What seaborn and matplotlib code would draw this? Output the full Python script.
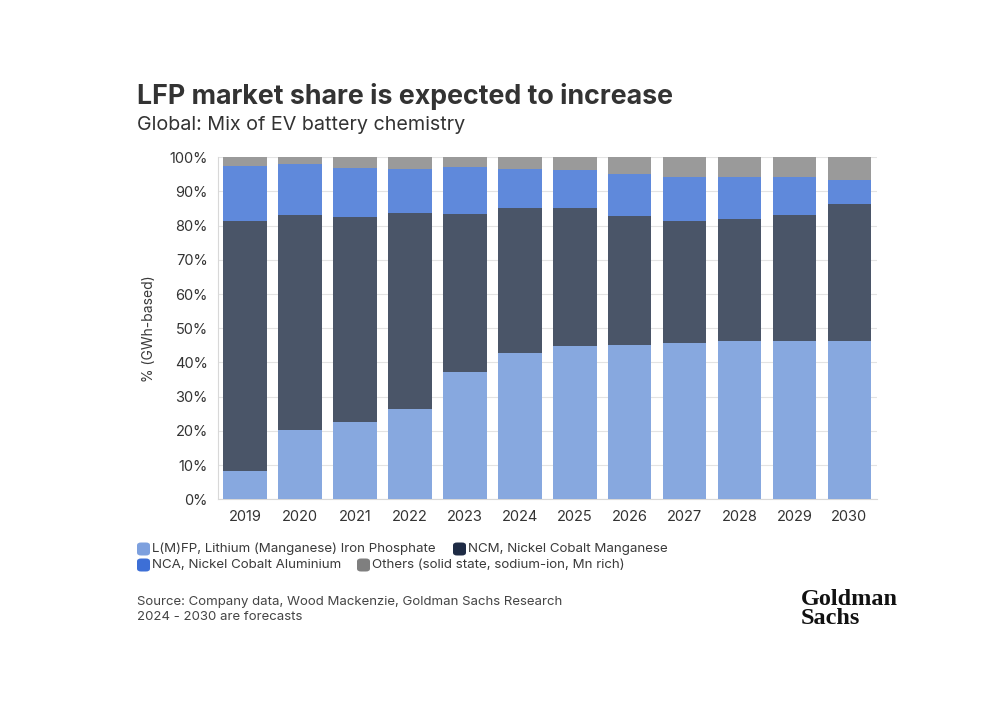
import numpy as np
import pandas as pd
import matplotlib
matplotlib.use("Agg")
import matplotlib.pyplot as plt
from matplotlib.patches import FancyBboxPatch
import seaborn as sns

years = ["2019", "2020", "2021", "2022", "2023", "2024", "2025", "2026", "2027", "2028", "2029", "2030"]
lfp = [8.3, 20.2, 22.7, 26.5, 37.1, 42.8, 44.8, 45.2, 45.8, 46.3, 46.3, 46.2]
ncm = [73.1, 62.9, 59.7, 57.3, 46.3, 42.4, 40.5, 37.5, 35.7, 35.7, 36.9, 40.0]
nca = [16.0, 14.9, 14.5, 12.9, 13.7, 11.3, 11.1, 12.3, 12.8, 12.2, 10.9, 7.2]
others = [2.6, 2.0, 3.1, 3.3, 2.9, 3.5, 3.6, 5.0, 5.7, 5.8, 5.9, 6.6]
series_names = ["L(M)FP, Lithium (Manganese) Iron Phosphate", "NCM, Nickel Cobalt Manganese",
                "NCA, Nickel Cobalt Aluminium", "Others (solid state, sodium-ion, Mn rich)"]
yticks = [0, 10, 20, 30, 40, 50, 60, 70, 80, 90, 100]

bar_colors = ["#87A8DF", "#4A5568", "#5F89DB", "#9A9A9A"]
legend_colors = ["#7DA0DE", "#1E2B45", "#3D6FD6", "#7F7F7F"]

sns.set_theme(style="white")
plt.rcParams["font.family"] = ["Inter", "DejaVu Sans"]

df = pd.DataFrame({"year": years, "lfp": lfp, "ncm": ncm, "nca": nca, "others": others})
df["c1"] = df["lfp"]
df["c2"] = df["c1"] + df["ncm"]
df["c3"] = df["c2"] + df["nca"]
df["c4"] = df["c3"] + df["others"]

fig = plt.figure(figsize=(9.87, 7.14), dpi=100)
ax = fig.add_axes([0.2204, 0.3007, 0.668, 0.479])

for col, color in zip(["c4", "c3", "c2", "c1"], bar_colors[::-1]):
    sns.barplot(data=df, x="year", y=col, color=color, width=0.795, ax=ax,
                saturation=1, linewidth=0, zorder=3)

ax.set_xlim(-0.5, len(years) - 0.5)
ax.set_ylim(0, 100)
ax.set_yticks(yticks)
ax.set_yticklabels([f"{v}%" for v in yticks])
ax.grid(axis="y", color="#E3E3E3", linewidth=0.8, zorder=0)
ax.set_axisbelow(True)
for s in ["top", "right"]:
    ax.spines[s].set_visible(False)
for s in ["left", "bottom"]:
    ax.spines[s].set_color("#D8D8D8")
    ax.spines[s].set_linewidth(0.8)
ax.tick_params(axis="both", colors="#D0D0D0", labelcolor="#333333", labelsize=10.5,
               length=4, width=0.8, pad=3)
ax.tick_params(axis="x", pad=4)
ax.set_xlabel("")
ax.set_ylabel("% (GWh-based)", fontsize=10, color="#3a3a3a", labelpad=10)

fig.text(137 / 987, 1 - 96 / 714, "LFP market share is expected to increase", fontsize=19.3,
         fontweight="bold", color="#333333", va="center", ha="left")
fig.text(137 / 987, 1 - 125 / 714, "Global: Mix of EV battery chemistry", fontsize=14.2,
         color="#333333", va="center", ha="left")

# legend (flow layout)
leg_items = [(137, 549, 0), (453, 549, 1), (137, 565, 2), (357, 565, 3)]
for px, py, i in leg_items:
    w, h = 13, 13
    patch = FancyBboxPatch(((px) / 987, 1 - (py + h / 2) / 714), w / 987, h / 714,
                           boxstyle="round,pad=0,rounding_size=0.004",
                           transform=fig.transFigure, facecolor=legend_colors[i],
                           edgecolor="none")
    fig.patches.append(patch)
    fig.text((px + 15.5) / 987, 1 - py / 714, series_names[i], fontsize=9.6,
             color="#3a3a3a", va="center", ha="left")

fig.text(137 / 987, 1 - 602 / 714, "Source: Company data, Wood Mackenzie, Goldman Sachs Research",
         fontsize=9.5, color="#444444", va="center", ha="left")
fig.text(137 / 987, 1 - 617 / 714, "2024 - 2030 are forecasts",
         fontsize=9.5, color="#444444", va="center", ha="left")

fig.text(801 / 987, 1 - 609 / 714, "Goldman\nSachs", fontsize=17.5, fontweight="bold",
         family=["Liberation Serif", "DejaVu Serif"], color="#111111", va="center",
         ha="left", linespacing=0.82)

fig.savefig("out.png", dpi=100, facecolor="white")
